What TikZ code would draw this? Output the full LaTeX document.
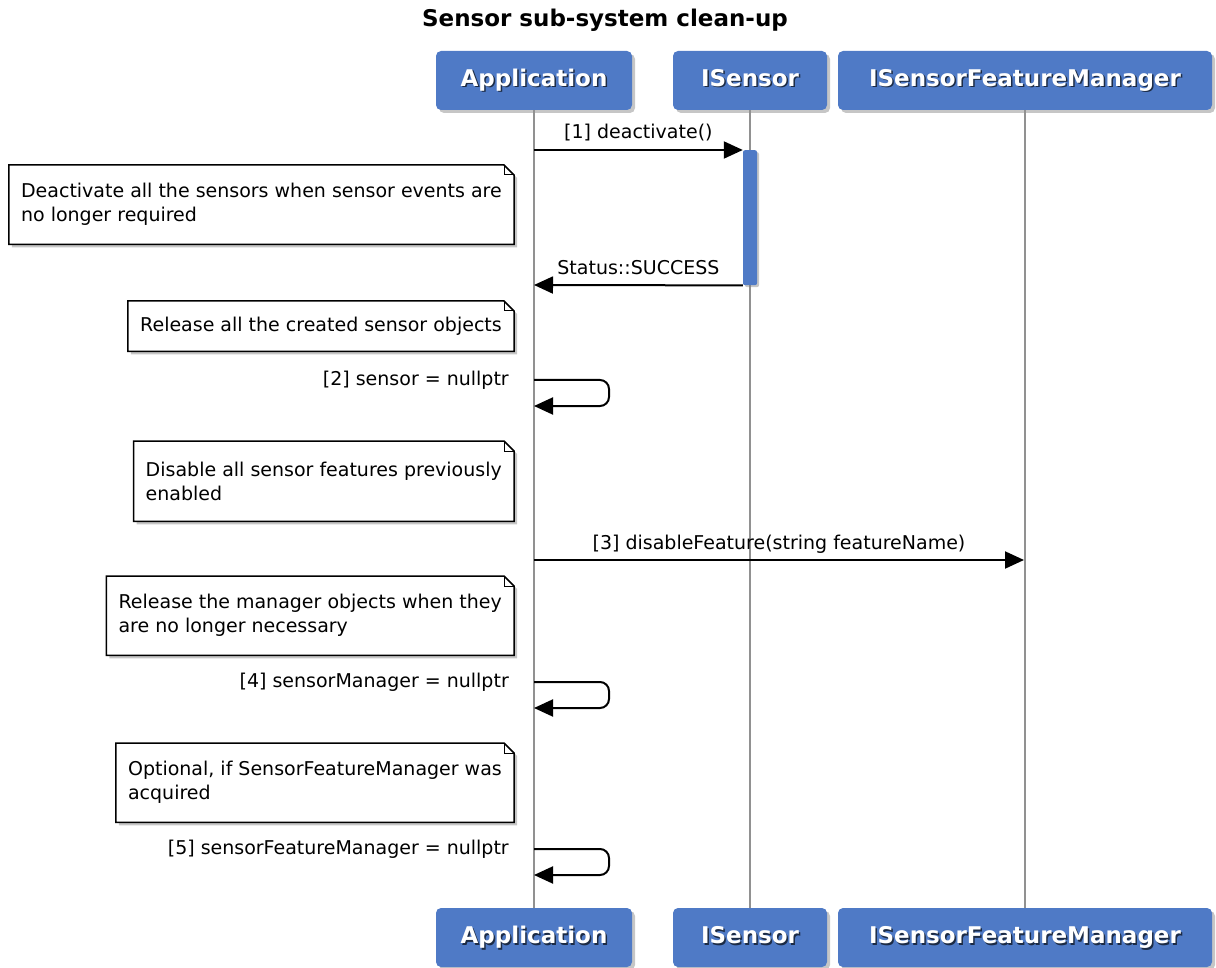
\documentclass[tikz,border=0pt]{standalone}
\usepackage{fontspec}
\setmainfont{DejaVu Sans}
\usepackage{tikz}
\usetikzlibrary{arrows.meta}
\usetikzlibrary{shadows}
\usetikzlibrary{backgrounds}

\definecolor{actorblue}{RGB}{79,122,198}
\definecolor{lifegray}{RGB}{145,145,145}

% header text with a soft dark shadow
\newcommand{\hdrtext}[1]{\rlap{\hspace{1.5pt}\raisebox{-1.5pt}{\color{actorblue!35!black}#1}}#1}

\begin{document}
\begin{tikzpicture}[
  x=1pt, y=-1pt,
  actor/.style={rectangle, rounded corners=5pt, fill=actorblue, text=white,
    font=\fontsize{23}{28}\selectfont\bfseries, minimum height=59pt,
    text height=17pt, text depth=5pt,
    drop shadow={shadow xshift=3pt, shadow yshift=-3pt, opacity=0.45}},
  lifeline/.style={draw=lifegray, line width=2pt},
  msg/.style={-{Triangle[length=19pt, width=17pt]}, line width=2pt},
  lbl/.style={font=\fontsize{19}{24}\selectfont, inner sep=0pt, text height=14pt, text depth=4pt},
  note/.style={font=\fontsize{19}{24}\selectfont, align=left, inner xsep=12pt, anchor=north east},
  notebox/.style={draw, line width=1.5pt, fill=white,
    drop shadow={shadow xshift=3pt, shadow yshift=-3pt, opacity=0.45}},
  activation/.style={fill=actorblue, rounded corners=2pt, minimum width=14pt, inner sep=0pt,
    drop shadow={shadow xshift=2pt, shadow yshift=-2pt, opacity=0.45}},
]
\useasboundingbox (0,0) rectangle (1216,968);

  % Title
  \node[font=\fontsize{23}{28}\selectfont\bfseries] (title) at (605,20) {Sensor sub-system clean-up};

  % Participants
  \node[actor, minimum width=196pt] (app)  at (534,80.5)  {\hdrtext{Application}};
  \node[actor, minimum width=154pt] (sen)  at (750,80.5)  {\hdrtext{ISensor}};
  \node[actor, minimum width=374pt] (mgr)  at (1025,80.5) {\hdrtext{ISensorFeatureManager}};
  \node[actor, minimum width=196pt] (appB) at (534,937.5)  {\hdrtext{Application}};
  \node[actor, minimum width=154pt] (senB) at (750,937.5)  {\hdrtext{ISensor}};
  \node[actor, minimum width=374pt] (mgrB) at (1025,937.5) {\hdrtext{ISensorFeatureManager}};

  % Lifelines
  \draw[lifeline] (app.south) -- (appB.north);
  \draw[lifeline] (sen.south) -- (senB.north);
  \draw[lifeline] (mgr.south) -- (mgrB.north);

  % Activation
  \node[activation, minimum height=135pt, anchor=north] (act) at (750,150) {};

  % Notes
  \node[note, minimum height=79pt] (n1) at (514,165) {Deactivate all the sensors when sensor events are\\no longer required};
  \node[note, minimum height=50pt] (n2) at (514,301) {Release all the created sensor objects};
  \node[note, minimum height=80pt] (n3) at (514,441) {Disable all sensor features previously\\enabled};
  \node[note, minimum height=79pt] (n4) at (514,576) {Release the manager objects when they\\are no longer necessary};
  \node[note, minimum height=79pt] (n5) at (514,743) {Optional, if SensorFeatureManager was\\acquired};
  \begin{scope}[on background layer]
    \foreach \n in {n1,n2,n3,n4,n5} {
      \filldraw[notebox] (\n.north west) -- ([xshift=-10pt]\n.north east)
        -- ([yshift=-10pt]\n.north east) -- (\n.south east) -- (\n.south west) -- cycle;
      \draw[line width=1pt] ([xshift=-10pt]\n.north east) |- ([yshift=-10pt]\n.north east);
    }
  \end{scope}

  % Points on the lifelines
  \coordinate (m1) at (534,150);
  \coordinate (m2) at (534,285);
  \coordinate (s2a) at (534,380);
  \coordinate (s2b) at (534,406);
  \coordinate (m3) at (534,560);
  \coordinate (f3) at (1024,560);
  \coordinate (s4a) at (534,682);
  \coordinate (s4b) at (534,708);
  \coordinate (s5a) at (534,849);
  \coordinate (s5b) at (534,875);

  % Messages
  \draw[msg] (m1) -- (act.north west)
    node[lbl, midway, above=6pt] (l1) {[1] deactivate()};
  \draw[msg] (act.south west) -- (m2)
    node[lbl, midway, above=6pt] (l2) {Status::SUCCESS};
  \draw[msg, rounded corners=9pt] (s2a) -- ++(75,0) -- ++(0,26) -- (s2b);
  \node[lbl, anchor=east] (l3) at (509,380) {[2] sensor = nullptr};
  \draw[msg] (m3) -- (f3)
    node[lbl, midway, above=6pt] (l4) {[3] disableFeature(string featureName)};
  \draw[msg, rounded corners=9pt] (s4a) -- ++(75,0) -- ++(0,26) -- (s4b);
  \node[lbl, anchor=east] (l5) at (509,682) {[4] sensorManager = nullptr};
  \draw[msg, rounded corners=9pt] (s5a) -- ++(75,0) -- ++(0,26) -- (s5b);
  \node[lbl, anchor=east] (l6) at (509,849) {[5] sensorFeatureManager = nullptr};
\end{tikzpicture}
\end{document}
